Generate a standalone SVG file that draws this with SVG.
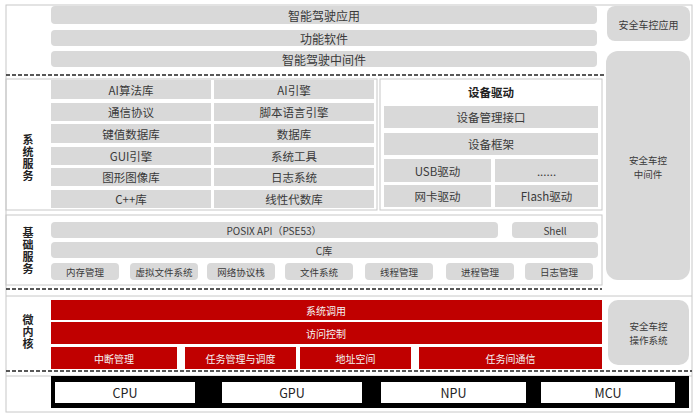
<svg xmlns="http://www.w3.org/2000/svg" width="700" height="417" viewBox="0 0 700 417">
<style>
text{font-family:"Noto Sans CJK SC","Noto Sans",sans-serif;fill:#3a3a3a;text-anchor:middle;dominant-baseline:central}
.g{fill:#d9d9d9}
.r{fill:#c00000}
.w{fill:#ffffff}
.frame{fill:none;stroke:#c8c8c8;stroke-width:1}
.dash{stroke:#222;stroke-width:1.4;stroke-dasharray:4 2;fill:none}
.f12{font-size:12px}
.f11{font-size:11.5px}
.f10{font-size:10px}
.f95{font-size:9.5px}
.lbl{font-size:11px;font-weight:bold;fill:#222;writing-mode:vertical-rl;letter-spacing:1px}
.wt{fill:#f4f4f4}
.hw{font-size:12.5px;fill:#222}
</style>
<rect x="0" y="0" width="700" height="417" fill="#ffffff"/>
<g id="frames">
<rect class="frame" x="6" y="5" width="686" height="407"/>
<rect class="frame" x="6" y="79" width="371" height="131"/>
<rect class="frame" x="380" y="79" width="222" height="131"/>
<rect class="frame" x="6" y="215" width="596" height="70"/>
<line class="frame" x1="6" y1="296" x2="692" y2="296"/>
<line class="frame" x1="6" y1="376" x2="692" y2="376"/>
</g>
<g id="connectors">
<line class="dash" x1="6" y1="75" x2="607" y2="75"/>
<line class="dash" x1="6" y1="289" x2="602" y2="289"/>
<line class="dash" x1="6" y1="371" x2="692" y2="371"/>
</g>
<g id="labels">
<text class="lbl" x="28" y="158">系统服务</text>
<text class="lbl" x="28" y="251">基础服务</text>
<text class="lbl" x="28" y="332">微内核</text>
</g>
<g id="app-layer">
<g id="n-app"><rect class="g" x="51" y="6" width="546" height="18" rx="4"/><text class="f12" x="324" y="15">智能驾驶应用</text></g>
<g id="n-func"><rect class="g" x="51" y="30" width="546" height="16" rx="4"/><text class="f12" x="324" y="38">功能软件</text></g>
<g id="n-mid"><rect class="g" x="51" y="51" width="546" height="16" rx="4"/><text class="f12" x="324" y="59">智能驾驶中间件</text></g>
</g>
<g id="sys-services">
<g id="n-ai-lib"><rect class="g" x="51" y="80" width="160" height="19"/><text class="f11" x="131" y="89.5">AI算法库</text></g>
<g id="n-ai-eng"><rect class="g" x="214" y="80" width="160" height="19"/><text class="f11" x="294" y="89.5">AI引擎</text></g>
<g id="n-comm"><rect class="g" x="51" y="103" width="160" height="18"/><text class="f11" x="131" y="112">通信协议</text></g>
<g id="n-script"><rect class="g" x="214" y="103" width="160" height="18"/><text class="f11" x="294" y="112">脚本语言引擎</text></g>
<g id="n-kv"><rect class="g" x="51" y="124" width="160" height="19"/><text class="f11" x="131" y="133.5">键值数据库</text></g>
<g id="n-db"><rect class="g" x="214" y="124" width="160" height="19"/><text class="f11" x="294" y="133.5">数据库</text></g>
<g id="n-gui"><rect class="g" x="51" y="147" width="160" height="18"/><text class="f11" x="131" y="156">GUI引擎</text></g>
<g id="n-tools"><rect class="g" x="214" y="147" width="160" height="18"/><text class="f11" x="294" y="156">系统工具</text></g>
<g id="n-img"><rect class="g" x="51" y="168" width="160" height="18"/><text class="f11" x="131" y="177">图形图像库</text></g>
<g id="n-log"><rect class="g" x="214" y="168" width="160" height="18"/><text class="f11" x="294" y="177">日志系统</text></g>
<g id="n-cpp"><rect class="g" x="51" y="190" width="160" height="18"/><text class="f11" x="131" y="199">C++库</text></g>
<g id="n-linalg"><rect class="g" x="214" y="190" width="160" height="18"/><text class="f11" x="294" y="199">线性代数库</text></g>
</g>
<g id="drivers">
<text class="f11" x="491" y="92" font-weight="bold" style="fill:#222">设备驱动</text>
<g id="n-devif"><rect class="g" x="384" y="106" width="214" height="22"/><text class="f11" x="491" y="117">设备管理接口</text></g>
<g id="n-devfw"><rect class="g" x="384" y="133" width="214" height="22"/><text class="f11" x="491" y="144">设备框架</text></g>
<g id="n-usb"><rect class="g" x="384" y="159" width="107" height="23"/><text class="f11" x="437.5" y="170.5">USB驱动</text></g>
<g id="n-more"><rect class="g" x="495" y="159" width="103" height="23"/><text class="f11" x="546.5" y="170.5">......</text></g>
<g id="n-nic"><rect class="g" x="384" y="185" width="107" height="22"/><text class="f11" x="437.5" y="196">网卡驱动</text></g>
<g id="n-flash"><rect class="g" x="495" y="185" width="103" height="22"/><text class="f11" x="546.5" y="196">Flash驱动</text></g>
</g>
<g id="base-services">
<g id="n-posix"><rect class="g" x="51" y="222" width="447" height="16" rx="4"/><text class="f10" x="274" y="230">POSIX API（PSE53）</text></g>
<g id="n-shell"><rect class="g" x="512" y="222" width="86" height="16" rx="4"/><text class="f10" x="555" y="230">Shell</text></g>
<g id="n-clib"><rect class="g" x="51" y="242" width="547" height="16" rx="4"/><text class="f10" x="324" y="250">C库</text></g>
<g id="n-mem"><rect class="g" x="51" y="263" width="68" height="17" rx="4"/><text class="f95" x="85" y="271.5">内存管理</text></g>
<g id="n-vfs"><rect class="g" x="130" y="263" width="68" height="17" rx="4"/><text class="f95" x="164" y="271.5">虚拟文件系统</text></g>
<g id="n-net"><rect class="g" x="207" y="263" width="68" height="17" rx="4"/><text class="f95" x="241" y="271.5">网络协议栈</text></g>
<g id="n-fs"><rect class="g" x="285" y="263" width="68" height="17" rx="4"/><text class="f95" x="319" y="271.5">文件系统</text></g>
<g id="n-thread"><rect class="g" x="365" y="263" width="68" height="17" rx="4"/><text class="f95" x="399" y="271.5">线程管理</text></g>
<g id="n-proc"><rect class="g" x="446" y="263" width="68" height="17" rx="4"/><text class="f95" x="480" y="271.5">进程管理</text></g>
<g id="n-logm"><rect class="g" x="525" y="263" width="68" height="17" rx="4"/><text class="f95" x="559" y="271.5">日志管理</text></g>
</g>
<g id="microkernel">
<g id="n-syscall"><rect class="r" x="51" y="300" width="551" height="20"/><text class="f10 wt" x="326" y="310">系统调用</text></g>
<g id="n-acl"><rect class="r" x="51" y="322" width="551" height="22"/><text class="f10 wt" x="326" y="333">访问控制</text></g>
<g id="n-irq"><rect class="r" x="51" y="347" width="126" height="22"/><text class="f10 wt" x="114" y="358">中断管理</text></g>
<g id="n-sched"><rect class="r" x="185" y="347" width="111" height="22"/><text class="f10 wt" x="240.5" y="358">任务管理与调度</text></g>
<g id="n-addr"><rect class="r" x="300" y="347" width="111" height="22"/><text class="f10 wt" x="355.5" y="358">地址空间</text></g>
<g id="n-ipc"><rect class="r" x="419" y="347" width="183" height="22"/><text class="f10 wt" x="510.5" y="358">任务间通信</text></g>
</g>
<g id="hardware">
<rect x="51" y="376" width="638" height="32" fill="#000"/>
<g id="n-cpu"><rect class="w" x="55" y="382" width="140" height="21"/><text class="hw" x="125" y="392.5">CPU</text></g>
<g id="n-gpu"><rect class="w" x="222" y="382" width="140" height="21"/><text class="hw" x="292" y="392.5">GPU</text></g>
<g id="n-npu"><rect class="w" x="381" y="382" width="145" height="21"/><text class="hw" x="453.5" y="392.5">NPU</text></g>
<g id="n-mcu"><rect class="w" x="541" y="382" width="134" height="21"/><text class="hw" x="608" y="392.5">MCU</text></g>
</g>
<g id="safety">
<g id="n-safe-app"><rect class="g" x="607" y="6" width="83" height="35" rx="8"/><text class="f10" x="648.5" y="24">安全车控应用</text></g>
<g id="n-safe-mid"><rect class="g" x="606" y="51" width="84" height="229" rx="12"/><text class="f95" x="648"><tspan x="648" y="159.5">安全车控</tspan><tspan x="648" y="173.5">中间件</tspan></text></g>
<g id="n-safe-os"><rect class="g" x="608" y="300" width="81" height="65" rx="10"/><text class="f95" x="648.5"><tspan x="648.5" y="326">安全车控</tspan><tspan x="648.5" y="340">操作系统</tspan></text></g>
</g>
</svg>
